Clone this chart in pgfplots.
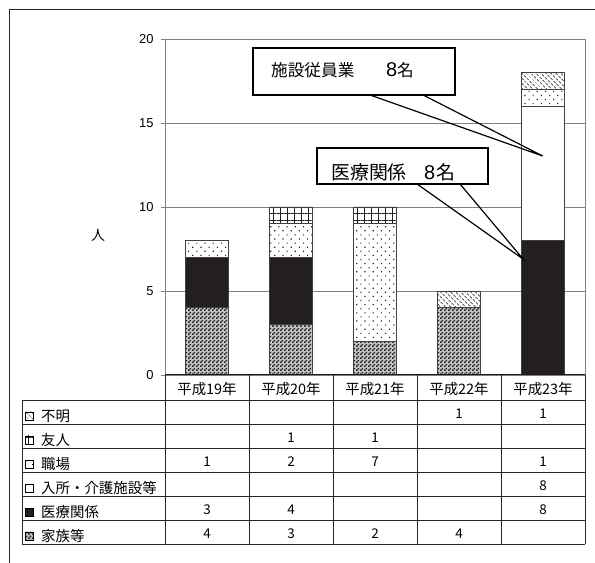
\documentclass[border=0pt]{standalone}
\usepackage{fontspec}
\setmainfont{Liberation Sans}
\newfontfamily\jp{Noto Sans CJK JP}
\usepackage{pgfplots}
\pgfplotsset{compat=1.18}
\usetikzlibrary{patterns,patterns.meta}

\definecolor{inkblack}{HTML}{231F20}
\definecolor{frameline}{HTML}{7F7F7F}

% fine checkerboard for the lowest group
\pgfdeclarepattern{
  name=checker,
  type=uncolored,
  bottom left={\pgfpoint{0bp}{0bp}},
  top right={\pgfpoint{4bp}{4bp}},
  tile size={\pgfpoint{4bp}{4bp}},
  code={
    \pgfpathrectangle{\pgfpointorigin}{\pgfpoint{2bp}{2bp}}
    \pgfpathrectangle{\pgfpoint{2bp}{2bp}}{\pgfpoint{2bp}{2bp}}
    \pgfusepath{fill}
  }
}

% fills of the six groups, bottom of the stack first
\tikzset{
  pFamily/.style={preaction={fill=black!22}, pattern=checker, pattern color=inkblack},
  pMedical/.style={fill=inkblack},
  pFacility/.style={fill=white},
  pWork/.style={preaction={fill=white}, pattern={Dots[distance=5.8bp, radius=0.8bp, angle=45]}, pattern color=inkblack},
  pFriend/.style={preaction={fill=white}, pattern={Hatch[distance=7bp, angle=0, line width=0.9bp]}, pattern color=inkblack},
  pUnknown/.style={preaction={fill=white}, pattern={Lines[angle=-45, distance=3.6bp, line width=0.8bp]}, pattern color=inkblack},
  tline/.style={draw=black!85, line width=0.9bp},
}

\begin{document}
\begin{tikzpicture}[x=1bp,y=1bp]
\path[use as bounding box] (0,0) rectangle (595,563);
% outer frame
\draw[black!85, line width=1bp] (9,0) -- (9,553) -- (595,553);

\begin{axis}[
  at={(165bp,188bp)}, anchor=south west,
  scale only axis, width=420bp, height=336bp,
  xmin=-0.5, xmax=4.5, ymin=0, ymax=20,
  ybar stacked, bar width=0.51,
  xtick=\empty,
  ytick={0,5,10,15,20},
  ytick pos=left, tick align=outside, major tick length=4bp,
  tick style={frameline, line width=0.8bp},
  ymajorgrids, grid style={frameline, line width=0.8bp},
  axis line style={frameline, line width=0.8bp},
  /pgf/number format/assume math mode=true,
  yticklabel style={font=\fontsize{13}{13}\selectfont, xshift=-4bp},
  every axis plot/.append style={draw=black!75, line width=0.9bp},
]
% 家族等
\addplot[pFamily]   coordinates {(0,4) (1,3) (2,2) (3,4) (4,0)};
% 医療関係
\addplot[pMedical]  coordinates {(0,3) (1,4) (2,0) (3,0) (4,8)};
% 入所・介護施設等
\addplot[pFacility] coordinates {(0,0) (1,0) (2,0) (3,0) (4,8)};
% 職場
\addplot[pWork]     coordinates {(0,1) (1,2) (2,7) (3,0) (4,1)};
% 友人
\addplot[pFriend]   coordinates {(0,0) (1,1) (2,1) (3,0) (4,0)};
% 不明
\addplot[pUnknown]  coordinates {(0,0) (1,0) (2,0) (3,1) (4,1)};
\end{axis}

% y axis title
\node[font=\jp\fontsize{14}{14}\selectfont] at (98,328) {人};

% data table under the plot
\foreach \i in {0,...,6} {\draw[tline] (22,163-24*\i) -- (585,163-24*\i);}
\draw[tline] (22,163) -- (22,19);
\draw[tline] (165,188) -- (165,19);
\foreach \c in {249,333,417,501,585} {\draw[tline] (\c,188) -- (\c,19);}
\draw[black!90, line width=1bp] (165,188) -- (585,188);

% category headers
\foreach \c/\t in {207/平成19年, 291/平成20年, 375/平成21年, 459/平成22年, 543/平成23年}
  {\node[anchor=base, inner sep=0, font=\jp\fontsize{14.5}{14.5}\selectfont] at (\c,168) {\t};}

% row labels with their keys
\foreach \i/\t in {0/不明, 1/友人, 2/職場, 3/入所・介護施設等, 4/医療関係, 5/家族等}
  {\node[anchor=base west, inner sep=0, font=\jp\fontsize{14.5}{14.5}\selectfont] at (41,141.5-24*\i) {\t};}
\path[pUnknown, draw=black, line width=0.8bp]  (25,143) rectangle (33,151);
\path[pFriend, draw=black, line width=0.8bp]   (25,119) rectangle (33,127);
\path[pWork, draw=black, line width=0.8bp]     (25,95) rectangle (33,103);
\path[pFacility, draw=black, line width=0.8bp] (25,71) rectangle (33,79);
\path[pMedical, draw=black, line width=0.8bp]  (25,47) rectangle (33,55);
\path[pFamily, draw=black, line width=0.8bp]   (25,23) rectangle (33,31);

% table values
\tikzset{tnum/.style={anchor=base, inner sep=0, font=\jp\fontsize{13.5}{13.5}\selectfont}}
\node[tnum] at (459,144) {1}; \node[tnum] at (543,144) {1};
\node[tnum] at (291,120) {1}; \node[tnum] at (375,120) {1};
\node[tnum] at (207,96) {1}; \node[tnum] at (291,96) {2}; \node[tnum] at (375,96) {7}; \node[tnum] at (543,96) {1};
\node[tnum] at (543,72) {8};
\node[tnum] at (207,48) {3}; \node[tnum] at (291,48) {4}; \node[tnum] at (543,48) {8};
\node[tnum] at (207,24) {4}; \node[tnum] at (291,24) {3}; \node[tnum] at (375,24) {2}; \node[tnum] at (459,24) {4};

% callouts
\draw[black, line width=1.3bp, fill=white] (253,468) rectangle (455,515);
\draw[black, line width=1.2bp] (370,468) -- (542.7,407) -- (423,468);
\node[anchor=base west, inner sep=0, font=\jp\fontsize{16.7}{16.7}\selectfont] at (271,486) {施設従員業};
\node[anchor=base west, inner sep=0, font=\fontsize{20}{20}\selectfont] at (386,486) {8};
\node[anchor=base west, inner sep=0, font=\jp\fontsize{16.7}{16.7}\selectfont] at (397,486) {名};

\draw[black, line width=1.3bp, fill=white] (317,379) rectangle (488,415);
\draw[black, line width=1.2bp] (417,379) -- (523,304) -- (460,379);
\node[anchor=base west, inner sep=0, font=\jp\fontsize{19}{19}\selectfont] at (331,383) {医療関係};
\node[anchor=base west, inner sep=0, font=\fontsize{20}{20}\selectfont] at (424,383) {8};
\node[anchor=base west, inner sep=0, font=\jp\fontsize{19}{19}\selectfont] at (436,383) {名};
\end{tikzpicture}
\end{document}
